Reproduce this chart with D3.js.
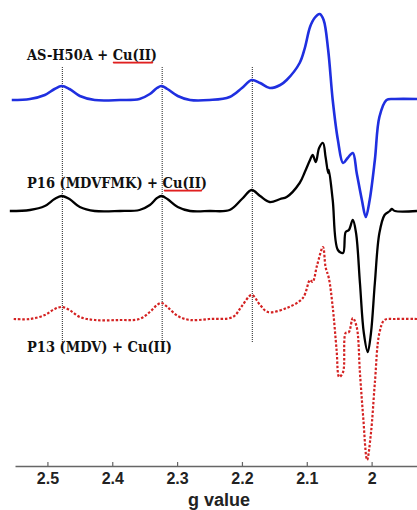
<!DOCTYPE html>
<html>
<head>
<meta charset="utf-8">
<script src="https://cdn.jsdelivr.net/npm/d3@7"></script>
<style>
    body { margin: 0; background: #fff; }
    svg { display: block; }
</style>
</head>
<body>
<script>
// g values (x axis is reversed: high g on the left)
let blueG = [2.555, 2.527, 2.504, 2.489, 2.478, 2.466, 2.450, 2.427, 2.388, 2.358, 2.342, 2.331, 2.324, 2.315, 2.299, 2.280,
    2.250, 2.219, 2.200, 2.185, 2.172, 2.157, 2.141, 2.131, 2.111, 2.103, 2.095, 2.088, 2.080, 2.074, 2.067, 2.060,
    2.052, 2.044, 2.037, 2.029, 2.023, 2.015, 2.009, 2.003, 1.995, 1.988, 1.977, 1.964, 1.930];
let blueI = [0, 1, 5, 11, 14, 11, 4, 0, 0, 1, 6, 12, 14, 11, 4, 0,
    0, 3, 12, 20, 17, 12, 15, 20, 37, 52, 73, 82, 86, 80, 50, 0,
    -40, -63, -58, -53, -73, -100, -117, -100, -60, -17, 0, 1, 1];

let blackG = [2.558, 2.527, 2.504, 2.489, 2.478, 2.466, 2.450, 2.427, 2.388, 2.358, 2.342, 2.331, 2.324, 2.315, 2.299, 2.280,
    2.250, 2.219, 2.200, 2.185, 2.172, 2.157, 2.141, 2.131, 2.111, 2.103, 2.095, 2.091, 2.086, 2.081, 2.075, 2.071,
    2.067, 2.066, 2.060, 2.052, 2.044, 2.040, 2.035, 2.029, 2.024, 2.018, 2.012, 2.006, 2.001, 1.995, 1.988, 1.980,
    1.972, 1.969, 1.964, 1.930];
let blackI = [0, 1, 5, 12, 15, 12, 4, 0, 0, 1, 6, 13, 15, 12, 4, 0,
    0, 1, 12, 21, 15, 9, 12, 14, 28, 39, 51, 56, 49, 63, 68, 54,
    38, 41, 11, -39, -42, -21, -19, -9, -22, -72, -122, -141, -122, -72, -22, -4,
    0, 2, 0, 0];

let redG = [2.552, 2.527, 2.504, 2.489, 2.478, 2.466, 2.450, 2.427, 2.388, 2.358, 2.342, 2.331, 2.324, 2.315, 2.299, 2.280,
    2.250, 2.214, 2.200, 2.185, 2.172, 2.160, 2.131, 2.106, 2.095, 2.091, 2.084, 2.075, 2.071, 2.066, 2.060, 2.054,
    2.050, 2.044, 2.040, 2.035, 2.029, 2.023, 2.018, 2.013, 2.007, 2.001, 1.995, 1.988, 1.980, 1.964, 1.930];
let redI = [0, 0, 4, 10, 12, 9, 2, -1, -1, 0, 7, 14, 16, 12, 3, -1,
    0, 2, 13, 24, 14, 7, 11, 21, 39, 37, 54, 72, 52, 41, 12, -31,
    -58, -53, -14, -13, 1, -8, -54, -98, -141, -114, -64, -14, -1, 0, 0];

let seriesNames = ["AS-H50A + Cu(II)", "P16 (MDVFMK) + Cu(II)", "P13 (MDV) + Cu(II)"];
let seriesOffsets = [366, 255, 147];   // vertical stacking of the traces
let markerG = [2.477, 2.323, 2.184];
let tickValues = [2.5, 2.4, 2.3, 2.2, 2.1, 2];

let width = 417, height = 510;
let svg = d3.select("body").append("svg").attr("width", width).attr("height", height);

let x = d3.scaleLinear().domain([2.55, 1.93]).range([15, 417]);
let y = d3.scaleLinear().domain([0, 466]).range([466, 0]);

// dotted guide lines
svg.append("g").selectAll("line").data(markerG).join("line")
    .attr("x1", d => x(d)).attr("x2", d => x(d))
    .attr("y1", y(399)).attr("y2", y(124))
    .attr("stroke", "#222").attr("stroke-width", 1).attr("stroke-dasharray", "1,1");

let traces = [
    {g: blueG, v: blueI, off: seriesOffsets[0], color: "#1f2fe0", w: 2.6, dash: null},
    {g: blackG, v: blackI, off: seriesOffsets[1], color: "#000", w: 2.3, dash: null},
    {g: redG, v: redI, off: seriesOffsets[2], color: "#d42222", w: 2.2, dash: "2.5,1.8"}
];

let line = d3.line().x(d => x(d[0])).y(d => y(d[1])).curve(d3.curveCatmullRom.alpha(0.5));

traces.forEach(t => {
    let pts = t.g.map((g, i) => [g, t.v[i] + t.off]);
    svg.append("path").datum(pts)
        .attr("d", line)
        .attr("fill", "none")
        .attr("stroke", t.color)
        .attr("stroke-width", t.w)
        .attr("stroke-linejoin", "round")
        .attr("stroke-dasharray", t.dash);
});

// labels
let labelPos = [[27, 60, 130, 113, 153], [27, 188, 180, 164, 202], [27, 352, 145, null, null]];
seriesNames.forEach((name, i) => {
    let p = labelPos[i];
    svg.append("text").attr("x", p[0]).attr("y", p[1])
        .attr("font-family", "DejaVu Serif").attr("font-weight", "bold").attr("font-size", 14.5)
        .attr("textLength", p[2]).attr("lengthAdjust", "spacingAndGlyphs")
        .attr("fill", "#111").text(name);
    if (p[3] !== null) {
        // spell-check squiggle under Cu(II)
        let pathD = "M" + p[3] + "," + (p[1] + 3);
        for (let xx = p[3]; xx < p[4]; xx += 2) pathD += " L" + (xx + 1) + "," + (p[1] + 2.2) + " L" + (xx + 2) + "," + (p[1] + 3);
        svg.append("path").attr("d", pathD).attr("fill", "none").attr("stroke", "#e02020").attr("stroke-width", 1.3);
    }
});

// axis
let axis = svg.append("g").attr("transform", `translate(0, ${y(0)})`)
    .call(d3.axisBottom(x).tickValues(tickValues).tickFormat(d => d).tickSize(-4).tickSizeOuter(0).tickPadding(7));
axis.select(".domain").attr("stroke", "#666").attr("stroke-width", 1.5);
axis.selectAll(".tick line").attr("stroke", "#666").attr("stroke-width", 1.2);
axis.selectAll(".tick text").attr("font-family", "Liberation Sans, Arial").attr("font-weight", "bold")
    .attr("font-size", 16).attr("fill", "#222");

svg.append("text").attr("x", 219).attr("y", 506).attr("text-anchor", "middle")
    .attr("font-family", "Liberation Sans, Arial").attr("font-weight", "bold").attr("font-size", 18)
    .attr("fill", "#222").text("g value");
</script>
</body>
</html>
